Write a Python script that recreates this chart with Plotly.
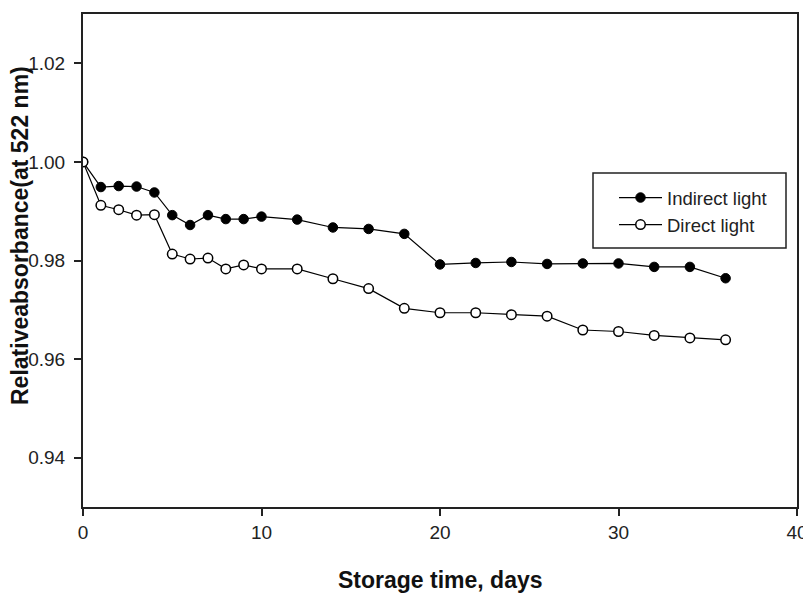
import plotly.graph_objects as go

days = [0, 1, 2, 3, 4, 5, 6, 7, 8, 9, 10, 12, 14, 16, 18, 20, 22, 24, 26, 28, 30, 32, 34, 36]
indirect = [1.000, 0.9949, 0.9951, 0.9950, 0.9938, 0.9892, 0.9872, 0.9892, 0.9884, 0.9884,
            0.9889, 0.9883, 0.9867, 0.9864, 0.9854, 0.9792, 0.9795, 0.9797, 0.9793, 0.9794,
            0.9794, 0.9787, 0.9787, 0.9764]
direct = [1.000, 0.9912, 0.9903, 0.9892, 0.9893, 0.9813, 0.9803, 0.9805, 0.9783, 0.9791,
          0.9783, 0.9783, 0.9763, 0.9743, 0.9703, 0.9694, 0.9694, 0.9690, 0.9687, 0.9659,
          0.9656, 0.9648, 0.9643, 0.9639]
x_ticks = [0, 10, 20, 30, 40]
y_ticks = [0.94, 0.96, 0.98, 1.00, 1.02]
y_tick_text = ["0.94", "0.96", "0.98", "1.00", "1.02"]

W, H = 803, 594
ml, mr, mt, mb = 83, 6, 14, 87
pw, ph = W - ml - mr, H - mt - mb

def px_x(p):
    return (p - ml) / pw

def px_y(p):
    return (H - mb - p) / ph

fig = go.Figure()
fig.add_trace(go.Scatter(
    x=days, y=indirect, mode="lines+markers", name="Indirect light",
    line=dict(color="black", width=1.2),
    marker=dict(symbol="circle", size=9.5, color="black", line=dict(color="black", width=1)),
))
fig.add_trace(go.Scatter(
    x=days, y=direct, mode="lines+markers", name="Direct light",
    line=dict(color="black", width=1.2),
    marker=dict(symbol="circle", size=9.5, color="white", line=dict(color="black", width=1.5)),
))

axis_common = dict(showgrid=False, zeroline=False, showline=True, linecolor="#222",
                   linewidth=2, mirror=True, ticks="outside", ticklen=7, tickwidth=1.5,
                   tickcolor="#222", automargin=False, ticklabeloverflow="allow",
                   tickfont=dict(family="Arial, Liberation Sans", size=19, color="#222"))

fig.update_xaxes(range=[0, 40], tickvals=x_ticks, ticklabelstandoff=0, **axis_common)
fig.update_yaxes(range=[0.93, 1.03], tickvals=y_ticks, ticktext=y_tick_text,
                 ticklabelstandoff=5, **axis_common)

fig.add_shape(type="rect", xref="paper", yref="paper",
              x0=px_x(593), x1=px_x(786), y0=px_y(248), y1=px_y(173),
              line=dict(color="#222", width=1.5), fillcolor="rgba(0,0,0,0)")

fig.add_annotation(text="<b>Storage time, days</b>", xref="paper", yref="paper",
                   x=0.5, y=px_y(580), xanchor="center", yanchor="middle", showarrow=False,
                   font=dict(family="Arial, Liberation Sans", size=23, color="#111"))
fig.add_annotation(text="<b>Relativeabsorbance(at 522 nm)</b>", xref="paper", yref="paper",
                   x=px_x(20), y=px_y(236), xanchor="center", yanchor="middle", showarrow=False,
                   textangle=-90,
                   font=dict(family="Arial, Liberation Sans", size=23, color="#111"))

fig.update_layout(
    width=W, height=H,
    margin=dict(l=ml, r=mr, t=mt, b=mb, autoexpand=False),
    paper_bgcolor="white", plot_bgcolor="white",
    showlegend=True,
    legend=dict(x=px_x(614), y=px_y(179), xanchor="left", yanchor="top",
                bgcolor="rgba(0,0,0,0)", borderwidth=0, itemwidth=43,
                font=dict(family="Arial, Liberation Sans", size=18.5, color="#222")),
)

fig.write_html("out.html", config={"displayModeBar": False},
               post_script="document.body.style.margin='0';document.body.style.overflow='hidden';")
